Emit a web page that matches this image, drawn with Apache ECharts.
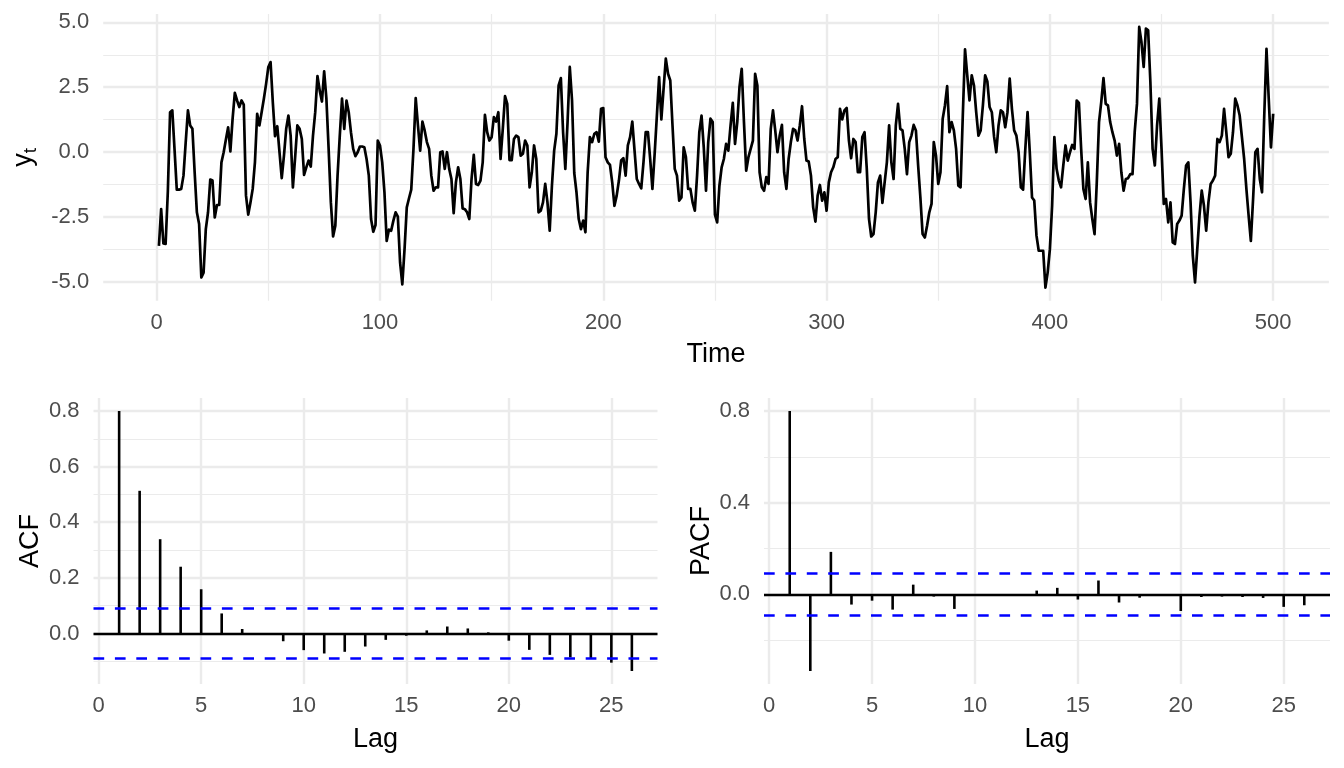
<!DOCTYPE html>
<html>
<head>
<meta charset="utf-8">
<title>Series, ACF and PACF</title>
<script src="https://cdn.jsdelivr.net/npm/echarts@6/dist/echarts.min.js"></script>
<style>
  html, body { margin: 0; padding: 0; background: #fff; }
  #chart { width: 1344px; height: 768px; }
</style>
</head>
<body>
<div id="chart"></div>
<script>
// simulated series (t = 1..500)
var yt = [
  -3.60, -2.19, -3.51, -3.53, -1.50, 1.54, 1.61, 0.10, -1.44, -1.44,
  -1.41, -0.90, 0.39, 1.61, 1.03, 0.90, -0.77, -2.31, -2.76, -4.82,
  -4.63, -2.96, -2.31, -1.05, -1.09, -2.51, -2.03, -2.03, -0.39, 0.00,
  0.49, 0.96, 0.03, 1.29, 2.28, 1.99, 1.74, 1.99, 1.83, -1.67,
  -2.40, -1.93, -1.41, -0.39, 1.48, 1.03, 1.54, 2.06, 2.63, 3.28,
  3.47, 1.93, 0.62, 1.00, 0.00, -1.00, -0.13, 0.90, 1.41, 0.64,
  -1.35, -0.20, 1.03, 0.90, 0.51, -0.87, -0.58, -0.32, -0.55, 0.64,
  1.54, 2.93, 2.38, 1.95, 3.11, 2.06, 0.13, -1.93, -3.24, -2.83,
  -0.90, 0.64, 2.06, 0.90, 1.99, 1.54, 0.77, 0.13, -0.15, 0.00,
  0.22, 0.22, 0.19, -0.26, -0.90, -2.57, -3.06, -2.80, 0.45, 0.26,
  -0.39, -1.54, -3.41, -2.98, -3.02, -2.63, -2.31, -2.48, -4.24, -5.08,
  -3.73, -2.12, -1.77, -1.44, 0.13, 2.08, 1.03, 0.06, 1.18, 0.84,
  0.39, 0.13, -0.90, -1.48, -1.35, -1.35, 0.00, 0.03, -0.64, 0.00,
  -0.64, -1.03, -2.34, -1.16, -0.58, -1.03, -2.16, -2.19, -2.31, -2.57,
  -1.03, -0.10, -1.22, -1.26, -1.09, -0.39, 1.44, 0.77, 0.45, 0.58,
  1.35, 1.18, 1.54, -0.26, 0.90, 2.16, 1.86, -0.30, -0.30, 0.51,
  0.64, 0.58, -0.13, -0.06, 0.45, 0.26, -1.35, -0.77, 0.26, -0.26,
  -2.31, -2.25, -1.93, -1.22, -1.93, -3.02, -1.29, 0.06, 0.71, 2.57,
  2.85, 0.77, -0.64, 1.16, 3.28, 2.00, -0.80, -1.54, -2.57, -2.96,
  -2.63, -3.08, -0.77, 0.58, 0.39, 0.71, 0.77, 0.41, 1.67, 1.70,
  -0.19, -0.39, -0.49, -1.16, -2.06, -1.67, -1.09, -0.32, -0.23, -0.90,
  0.26, 0.58, 1.18, 0.06, -1.03, -1.22, -1.39, -0.39, 0.77, 0.77,
  -0.26, -1.41, -0.06, 1.41, 2.89, 1.26, 2.44, 3.60, 3.02, 2.76,
  1.03, -0.64, -0.90, -1.86, -1.74, 0.19, -0.19, -1.41, -1.41, -1.93,
  -2.25, -0.90, 0.77, 1.41, 0.19, -1.48, 0.39, 1.29, 1.16, -2.40,
  -2.70, -1.29, -0.58, -0.26, 0.32, 0.06, 1.03, 1.90, 0.32, 1.16,
  2.51, 3.21, 1.16, -0.71, -0.19, 0.13, 0.45, 3.02, 2.57, -0.77,
  -1.35, -1.48, -0.96, -1.22, 0.90, 1.61, 0.84, 0.00, 0.64, 1.05,
  -0.77, -1.41, -0.26, 0.39, 0.90, 0.84, 0.45, 1.03, 1.77, 0.51,
  -0.32, -0.36, -0.90, -2.12, -2.67, -1.67, -1.26, -1.86, -1.54, -2.25,
  -1.16, -0.77, -0.58, -0.26, -0.19, 1.67, 1.26, 1.61, 1.70, 0.45,
  -0.23, 0.51, 0.39, -0.77, -0.77, 0.58, 0.77, -0.64, -2.57, -3.24,
  -3.15, -2.31, -1.16, -0.90, -1.95, -1.16, -0.39, 1.03, -0.39, -1.03,
  1.03, 1.86, 0.90, 0.84, 0.13, -0.84, 0.39, 0.64, 1.05, 0.84,
  -0.51, -1.74, -3.15, -3.28, -2.83, -2.31, -1.99, 0.39, -0.13, -1.22,
  -0.77, 1.29, 1.80, 2.54, 0.77, 1.16, 0.84, 0.13, -1.29, -1.35,
  1.41, 3.96, 2.96, 1.99, 2.96, 2.57, 1.54, 0.64, 0.84, 1.80,
  2.96, 2.72, 1.74, 1.54, 0.60, 0.00, 1.03, 1.61, 1.54, 0.96,
  1.54, 2.83, 1.67, 0.84, 0.64, 0.00, -1.35, -1.44, 0.13, 1.54,
  0.00, -1.74, -1.86, -3.21, -3.79, -3.79, -3.79, -5.21, -4.63, -3.73,
  -2.06, 0.58, -0.64, -1.09, -1.35, -0.51, 0.26, -0.32, 0.00, 0.28,
  0.13, 1.99, 1.90, 0.13, -1.41, -1.80, -0.39, -1.93, -2.57, -3.15,
  -1.16, 1.16, 1.93, 2.85, 1.86, 1.80, 1.16, 0.77, 0.45, -0.13,
  0.32, -0.77, -1.48, -1.03, -1.00, -0.84, -0.84, 0.80, 1.86, 4.82,
  4.24, 3.28, 4.76, 4.69, 2.70, 0.13, -0.51, 1.03, 2.06, 0.13,
  -1.99, -1.80, -2.70, -1.93, -3.47, -3.53, -2.76, -2.63, -2.44, -1.41,
  -0.51, -0.39, -1.93, -3.98, -5.01, -3.73, -2.44, -1.48, -2.06, -3.02,
  -1.93, -1.22, -1.09, -0.90, 0.51, 0.39, 0.64, 1.67, 0.77, -0.19,
  -0.06, 0.77, 2.06, 1.80, 1.41, 0.58, -0.26, -1.41, -2.44, -3.41,
  -1.80, 0.00, 0.13, -1.03, -1.54, 1.41, 3.98, 2.06, 0.19, 1.48
];

var lags = [1, 2, 3, 4, 5, 6, 7, 8, 9, 10, 11, 12, 13, 14, 15, 16, 17, 18, 19, 20, 21, 22, 23, 24, 25, 26];
var acfValues = [0.800, 0.513, 0.339, 0.240, 0.159, 0.072, 0.016, 0.001, -0.028, -0.060,
  -0.072, -0.066, -0.047, -0.023, -0.008, 0.011, 0.025, 0.018, 0.004, -0.026,
  -0.059, -0.077, -0.086, -0.090, -0.105, -0.135];
var pacfValues = [0.800, -0.335, 0.185, -0.045, -0.028, -0.067, 0.042, -0.010, -0.064, -0.002,
  0.001, 0.000, 0.016, 0.028, -0.023, 0.060, -0.036, -0.015, -0.006, -0.073,
  -0.012, -0.010, -0.012, -0.016, -0.055, -0.048];
var ciBound = 0.088;

// tick and grid break values
var timeTicks = [0, 100, 200, 300, 400, 500];
var timeMinor = [50, 150, 250, 350, 450];
var ytTicks = [-5, -2.5, 0, 2.5, 5];
var ytMinor = [-3.75, -1.25, 1.25, 3.75];
var lagTicks = [0, 5, 10, 15, 20, 25];
var acfTicks = [0, 0.2, 0.4, 0.6, 0.8];
var acfMinor = [-0.1, 0.1, 0.3, 0.5, 0.7];
var pacfTicks = [0, 0.4, 0.8];
var pacfMinor = [-0.2, 0.2, 0.6];

var FONT = '"Liberation Sans", Arial, Helvetica, sans-serif';
var GRID_COL = '#EBEBEB';

// ggplot style 5% expansion of a data range
function expand(lo, hi) {
  var pad = (hi - lo) * 0.05;
  return [lo - pad, hi + pad];
}
function minOf(a) { return Math.min.apply(null, a); }
function maxOf(a) { return Math.max.apply(null, a); }

var timeRange = expand(1, yt.length);
var ytRange = expand(minOf(yt), maxOf(yt));
var lagRange = expand(lags[0], lags[lags.length - 1]);
var acfRange = expand(Math.min(0, minOf(acfValues)), maxOf(acfValues));
var pacfRange = expand(Math.min(0, minOf(pacfValues)), maxOf(pacfValues));

function fmt1(v) { return v.toFixed(1); }

function xAxisOf(idx, range, ticks, name, gap) {
  return {
    type: 'value', gridIndex: idx, min: range[0], max: range[1],
    axisLine: { show: false }, axisTick: { show: false }, splitLine: { show: false },
    axisLabel: { customValues: ticks, color: '#4D4D4D', fontSize: 22, fontFamily: FONT, margin: 11 },
    name: name, nameLocation: 'middle', nameGap: gap,
    nameTextStyle: { color: '#000', fontSize: 27, fontFamily: FONT }
  };
}
function yAxisOf(idx, range, ticks, name, gap, rich) {
  var ax = {
    type: 'value', gridIndex: idx, min: range[0], max: range[1],
    axisLine: { show: false }, axisTick: { show: false }, splitLine: { show: false },
    axisLabel: { customValues: ticks, formatter: fmt1, color: '#4D4D4D', fontSize: 22, fontFamily: FONT, margin: 14 },
    name: name, nameLocation: 'middle', nameRotate: 90, nameGap: gap,
    nameTextStyle: { color: '#000', fontSize: 27, fontFamily: FONT }
  };
  if (rich) ax.nameTextStyle.rich = rich;
  return ax;
}

// background grid lines drawn as mark lines so they span the whole panel
function gridSeries(idx, xMajor, xMinor, yMajor, yMinor) {
  var d = [];
  yMinor.forEach(function (v) { d.push({ yAxis: v, lineStyle: { width: 1.2 } }); });
  xMinor.forEach(function (v) { d.push({ xAxis: v, lineStyle: { width: 1.2 } }); });
  yMajor.forEach(function (v) { d.push({ yAxis: v, lineStyle: { width: 2.4 } }); });
  xMajor.forEach(function (v) { d.push({ xAxis: v, lineStyle: { width: 2.4 } }); });
  return {
    type: 'line', xAxisIndex: idx, yAxisIndex: idx, data: [], z: 1, silent: true,
    markLine: {
      z: 1, silent: true, animation: false, symbol: ['none', 'none'],
      label: { show: false }, emphasis: { disabled: true },
      lineStyle: { color: GRID_COL, type: 'solid' },
      data: d
    }
  };
}

function refLines(idx) {
  return {
    type: 'line', xAxisIndex: idx, yAxisIndex: idx, data: [], z: 6, silent: true,
    markLine: {
      z: 6, silent: true, animation: false, symbol: ['none', 'none'],
      label: { show: false }, emphasis: { disabled: true },
      data: [
        { yAxis: 0, lineStyle: { color: '#000', width: 2.4, type: 'solid' } },
        { yAxis: ciBound, lineStyle: { color: '#0000FF', width: 2.6, type: [10.7, 10.7] } },
        { yAxis: -ciBound, lineStyle: { color: '#0000FF', width: 2.6, type: [10.7, 10.7] } }
      ]
    }
  };
}

function stems(idx, values) {
  return {
    type: 'bar', xAxisIndex: idx, yAxisIndex: idx, z: 4, silent: true,
    barWidth: 2.6, itemStyle: { color: '#000' },
    data: lags.map(function (l, i) { return [l, values[i]]; })
  };
}

var chart = echarts.init(document.getElementById('chart'));
chart.setOption({
  animation: false,
  backgroundColor: '#fff',
  textStyle: { fontFamily: FONT },
  grid: [
    { left: 103.2, top: 13.9, width: 1225.7, height: 286.8, outerBoundsMode: 'none' },
    { left: 93.5, top: 398, width: 564, height: 286, outerBoundsMode: 'none' },
    { left: 764, top: 398, width: 566, height: 286, outerBoundsMode: 'none' }
  ],
  xAxis: [
    xAxisOf(0, timeRange, timeTicks, 'Time', 40),
    xAxisOf(1, lagRange, lagTicks, 'Lag', 42),
    xAxisOf(2, lagRange, lagTicks, 'Lag', 42)
  ],
  yAxis: [
    yAxisOf(0, ytRange, ytTicks, '{y|y}{t|t}', 57, {
      y: { fontSize: 27, lineHeight: 30, verticalAlign: 'top', color: '#000', fontFamily: FONT },
      t: { fontSize: 19, lineHeight: 19, padding: [13, 0, 0, 0], verticalAlign: 'bottom', color: '#000', fontFamily: FONT }
    }),
    yAxisOf(1, acfRange, acfTicks, 'ACF', 49),
    yAxisOf(2, pacfRange, pacfTicks, 'PACF', 49)
  ],
  series: [
    gridSeries(0, timeTicks, timeMinor, ytTicks, ytMinor),
    gridSeries(1, lagTicks, [], acfTicks, acfMinor),
    gridSeries(2, lagTicks, [], pacfTicks, pacfMinor),
    {
      type: 'line', xAxisIndex: 0, yAxisIndex: 0, z: 3, silent: true,
      symbol: 'none', showSymbol: false,
      lineStyle: { color: '#000', width: 2.7, join: 'round' },
      data: yt.map(function (v, i) { return [i + 1, v]; })
    },
    stems(1, acfValues),
    stems(2, pacfValues),
    refLines(1),
    refLines(2)
  ]
});
</script>
</body>
</html>
